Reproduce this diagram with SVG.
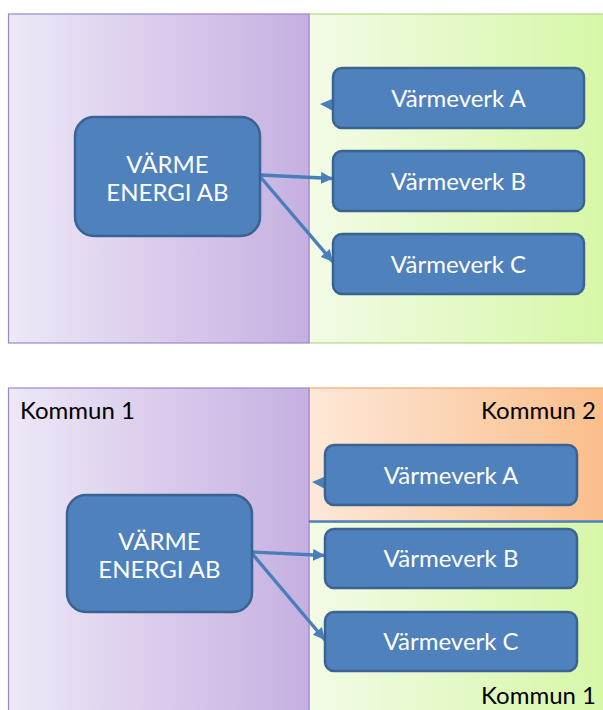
<svg xmlns="http://www.w3.org/2000/svg" width="603" height="710" viewBox="0 0 603 710">
  <defs>
    <linearGradient id="gPurple" x1="0" y1="0" x2="1" y2="0">
      <stop offset="0" stop-color="#eee8f7"/>
      <stop offset="1" stop-color="#c5b0e1"/>
    </linearGradient>
    <linearGradient id="gGreen" x1="0" y1="0" x2="1" y2="0">
      <stop offset="0" stop-color="#f2fbe6"/>
      <stop offset="1" stop-color="#d6f7a6"/>
    </linearGradient>
    <linearGradient id="gOrange" x1="0" y1="0" x2="1" y2="0">
      <stop offset="0" stop-color="#fde8d8"/>
      <stop offset="1" stop-color="#fabd8a"/>
    </linearGradient>
    <marker id="arr" markerUnits="userSpaceOnUse" markerWidth="13" markerHeight="12" refX="12" refY="6" orient="auto">
      <path d="M0,0 L12,6 L0,12 z" fill="#4a7ebb"/>
    </marker>
    <style>
      .node rect { fill: #4f81bd; stroke: #3a6392; stroke-width: 2.5; }
      .node text { font-family: Lato, "Open Sans", sans-serif; font-size: 24px; fill: #ffffff; text-anchor: middle; }
      .lbl { font-family: Lato, "Open Sans", sans-serif; font-size: 24px; fill: #000000; }
      .conn line { stroke: #4a7ebb; stroke-width: 3.4; }
      .pp { fill: url(#gPurple); stroke: #9c88c6; stroke-width: 1.2; }
      .pg { fill: url(#gGreen); stroke: #b3d88a; stroke-width: 1.2; }
      .po { fill: url(#gOrange); stroke: #f3aa70; stroke-width: 1.2; }
    </style>
  </defs>

  <g id="panels-top">
    <rect class="pg" x="309" y="14" width="300" height="329"/>
    <rect class="pp" x="8.5" y="14" width="300.5" height="329"/>
  </g>

  <g id="panels-bottom">
    <rect class="po" x="309" y="388" width="300" height="134"/>
    <rect class="pg" x="309" y="522" width="300" height="194"/>
    <rect class="pp" x="8.5" y="388" width="300.5" height="328"/>
    <line x1="309" y1="521.5" x2="603" y2="521.5" stroke="#4f81bd" stroke-width="2.5"/>
    <text class="lbl" x="20" y="419">Kommun 1</text>
    <text class="lbl" x="596" y="419" text-anchor="end">Kommun 2</text>
    <text class="lbl" x="596" y="704" text-anchor="end">Kommun 1</text>
  </g>

  <g id="connectors" class="conn">
    <line x1="260" y1="175" x2="333" y2="178.5" marker-end="url(#arr)"/>
    <line x1="260" y1="176.5" x2="333" y2="262" marker-end="url(#arr)"/>
    <polygon points="320,104 332,99 333,111" fill="#4a7ebb"/>
    <line x1="252" y1="552" x2="325" y2="555.5" marker-end="url(#arr)"/>
    <line x1="252" y1="553.5" x2="325" y2="640" marker-end="url(#arr)"/>
    <polygon points="312,482 324,477 325,489" fill="#4a7ebb"/>
  </g>

  <g id="top-energi" class="node">
    <rect x="75" y="117" width="185" height="119" rx="19"/>
    <text x="167.5" y="173">VÄRME</text>
    <text x="167.5" y="201">ENERGI AB</text>
  </g>
  <g id="top-verk-a" class="node">
    <rect x="333" y="68" width="251" height="60" rx="9"/>
    <text x="458.5" y="106.5">Värmeverk A</text>
  </g>
  <g id="top-verk-b" class="node">
    <rect x="333" y="151" width="251" height="60" rx="9"/>
    <text x="458.5" y="189.5">Värmeverk B</text>
  </g>
  <g id="top-verk-c" class="node">
    <rect x="333" y="234" width="251" height="60" rx="9"/>
    <text x="458.5" y="272.5">Värmeverk C</text>
  </g>

  <g id="bottom-energi" class="node">
    <rect x="67" y="495" width="185" height="117" rx="19"/>
    <text x="159.5" y="550">VÄRME</text>
    <text x="159.5" y="578">ENERGI AB</text>
  </g>
  <g id="bottom-verk-a" class="node">
    <rect x="325" y="445" width="252" height="60" rx="9"/>
    <text x="451" y="483.5">Värmeverk A</text>
  </g>
  <g id="bottom-verk-b" class="node">
    <rect x="325" y="529" width="252" height="59" rx="9"/>
    <text x="451" y="567">Värmeverk B</text>
  </g>
  <g id="bottom-verk-c" class="node">
    <rect x="325" y="612" width="252" height="59" rx="9"/>
    <text x="451" y="650">Värmeverk C</text>
  </g>
</svg>
